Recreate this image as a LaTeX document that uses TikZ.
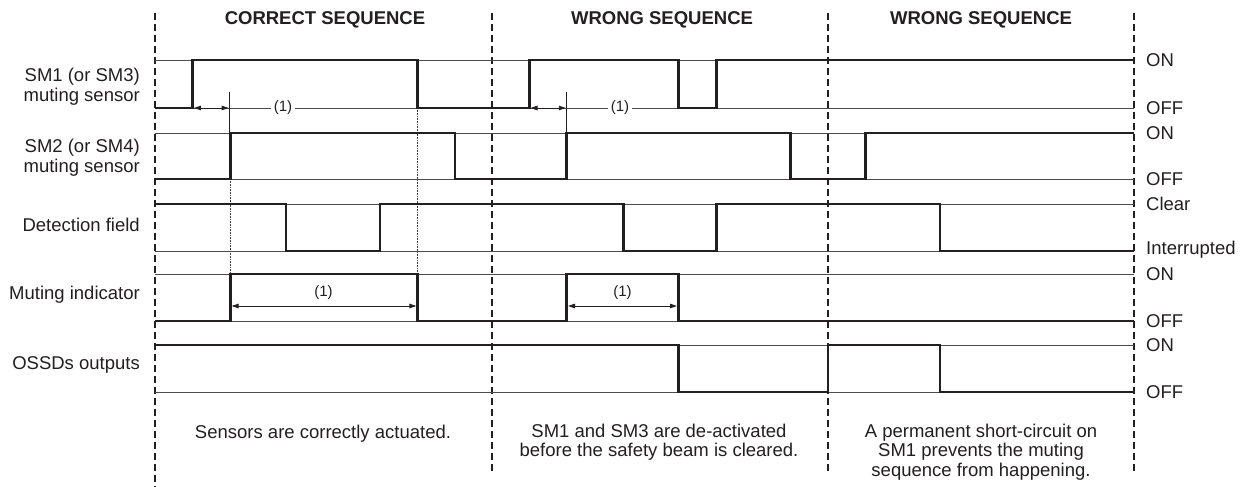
\documentclass[tikz,border=0pt]{standalone}
\usepackage{fontspec}
\setmainfont{Liberation Sans}
\usetikzlibrary{arrows.meta}
\definecolor{ink}{HTML}{231F20}
\begin{document}
\begin{tikzpicture}[x=1bp,y=-1bp,
  sig/.style={line width=2.6bp, ink, line join=miter, line cap=butt},
  refl/.style={line width=0.9bp, black!70},
  sepl/.style={line width=2bp, ink, dash pattern=on 7bp off 4bp},
  guide/.style={line width=0.8bp, black!75, dash pattern=on 0.8bp off 0.8bp},
  tickl/.style={line width=0.9bp, ink},
  dim/.style={line width=0.9bp, ink, {Triangle[length=7bp,width=4.5bp]}-{Triangle[length=7bp,width=4.5bp]}},
  lab/.style={font=\fontsize{18.5bp}{20bp}\selectfont, text=ink, inner sep=0pt},
  leftlab/.style={lab, align=right},
  botlab/.style={font=\fontsize{18.5bp}{19.5bp}\selectfont, text=ink, inner sep=0pt, align=center},
  title/.style={font=\fontsize{18.5bp}{20bp}\selectfont\bfseries, text=ink, inner sep=0pt, anchor=base},
  state/.style={lab, anchor=base west},
  one/.style={font=\fontsize{15bp}{16bp}\selectfont, text=ink, inner xsep=2.5bp, inner ysep=0pt},
]
\useasboundingbox (0,0) rectangle (1247,487);
\fill[white] (0,0) rectangle (1247,487);

% column separators
\draw[sepl] (155,13) -- (155,487);
\draw[sepl] (492,13) -- (492,473);
\draw[sepl] (828,13) -- (828,473);
\draw[sepl] (1134,13) -- (1134,473);

% titles
\node[title] (t1) at (325,25) {CORRECT SEQUENCE};
\node[title] (t2) at (662,25) {WRONG SEQUENCE};
\node[title] (t3) at (981,25) {WRONG SEQUENCE};

% reference levels
\foreach \yy in {60,108,133,179,204,251,274,321,345,392}
  \draw[refl] (155,\yy) -- (1134,\yy);

% guides
\draw[tickl] (229.5,91.7) -- (229.5,133);
\draw[guide] (230,179) -- (230,274);
\draw[guide] (417.7,108) -- (417.7,274);
\draw[tickl] (566.7,91.7) -- (566.7,133);

% labels (1) on SM1 off line
\node[one, fill=white] (l1a) at (283,108) {(1)};
\node[one, fill=white] (l1b) at (620,108) {(1)};

% signals
\draw[sig] (155,108) -| (192.7,60) -| (417.7,108) -| (529.3,60) -| (678.3,108) -| (716.5,60) -- (1134,60);
\draw[sig] (155,179) -| (230.3,133) -| (455,179) -| (566.7,133) -| (790.7,179) -| (865.5,133) -- (1134,133);
\draw[sig] (155,204) -| (286,251) -| (380,204) -| (623.3,251) -| (716.3,204) -| (940,251) -- (1134,251);
\draw[sig] (155,321) -| (230.3,274) -| (417.7,321) -| (566.7,274) -| (678.3,321) -- (1134,321);
\draw[sig] (155,345) -| (678.3,392) -| (828,345) -| (940,392) -- (1134,392);

% dimension arrows
\coordinate (d1a) at (193.9,108);
\coordinate (d1b) at (228.6,108);
\coordinate (d2a) at (530.5,108);
\coordinate (d2b) at (565.8,108);
\coordinate (d3a) at (231.6,306);
\coordinate (d3b) at (416.4,306);
\coordinate (d4a) at (568,306);
\coordinate (d4b) at (677,306);
\draw[dim] (d1a) -- (d1b);
\draw[dim] (d2a) -- (d2b);
\draw[dim] (d3a) -- (d3b);
\draw[dim] (d4a) -- (d4b);
\node[one] (l1c) at (323.5,292.5) {(1)};
\node[one] (l1d) at (622.5,292.5) {(1)};

% row labels
\node[leftlab, anchor=east] (r1) at (140,86.7) {SM1 (or SM3)\\muting sensor};
\node[leftlab, anchor=east] (r2) at (140,157.5) {SM2 (or SM4)\\muting sensor};
\node[lab, anchor=base east] (r3) at (140,231.5) {Detection field};
\node[lab, anchor=base east] (r4) at (140,300) {Muting indicator};
\node[lab, anchor=base east] (r5) at (140,370) {OSSDs outputs};

% state labels
\node[state] (s1) at (1146,66.5) {ON};
\node[state] (s2) at (1146,114.5) {OFF};
\node[state] (s3) at (1146,139.5) {ON};
\node[state] (s4) at (1146,185.5) {OFF};
\node[state] (s5) at (1146,210.5) {Clear};
\node[state] (s6) at (1146,255) {Interrupted};
\node[state] (s7) at (1146,280.5) {ON};
\node[state] (s8) at (1146,327.5) {OFF};
\node[state] (s9) at (1146,351.5) {ON};
\node[state] (s10) at (1146,398.5) {OFF};

% bottom notes
\node[botlab, anchor=base] (b1) at (323,438) {Sensors are correctly actuated.};
\node[botlab] (b2) at (659,442) {SM1 and SM3 are de-activated\\before the safety beam is cleared.};
\node[botlab] (b3) at (981,451.8) {A permanent short-circuit on\\SM1 prevents the muting\\sequence from happening.};
\end{tikzpicture}
\end{document}
